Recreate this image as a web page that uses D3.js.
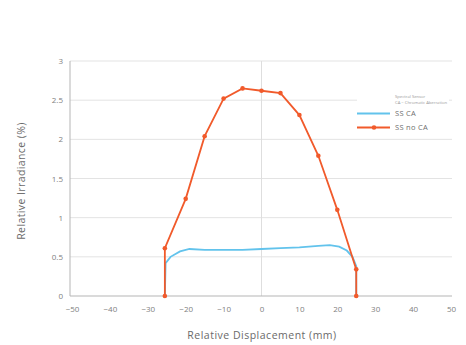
<!DOCTYPE html>
<html><head><meta charset="utf-8">
<script src="https://cdn.jsdelivr.net/npm/d3@7"></script>
<style>body{margin:0;background:#fff}svg{display:block;font-family:"Open Sans",sans-serif}</style>
</head><body><svg id="c" width="466" height="345"></svg>
<script>
const xTicks = [-50,-40,-30,-20,-10,0,10,20,30,40,50];
const yTicks = [0,0.5,1,1.5,2,2.5,3];
const yTickLabels = ["0","0.5","1","1.5","2","2.5","3"];
const seriesNames = ["SS CA","SS no CA"];
const legendTitle = ["Spectral Sensor","CA = Chromatic Aberration"];
const caX = [-25.5,-25.3,-24,-21.5,-19,-15,-10,-5,0,5,10,15,18,20.5,22.5,24,25,25];
const caY = [0,0.42,0.5,0.57,0.6,0.59,0.59,0.59,0.6,0.61,0.62,0.64,0.65,0.63,0.58,0.5,0.38,0];
const noCaX = [-25.5,-25.5,-20,-15,-10,-5,0,5,10,15,20,25,25];
const noCaY = [0,0.61,1.24,2.04,2.52,2.65,2.62,2.59,2.31,1.79,1.1,0.34,0];

const svg = d3.select("#c");
const x = d3.scaleLinear().domain([-50,50]).range([72,451]);
const y = d3.scaleLinear().domain([0,3]).range([296,61]);
const blue = "#62c3ec", orange = "#f15a2b";

// gridlines
svg.append("g").selectAll("line").data(yTicks.slice(1)).join("line")
  .attr("x1",70).attr("x2",452).attr("y1",d=>y(d)).attr("y2",d=>y(d))
  .attr("stroke","#e3e3e3").attr("stroke-width",1);
svg.append("line").attr("x1",x(0)).attr("x2",x(0)).attr("y1",y(3)).attr("y2",y(0))
  .attr("stroke","#dedede");

// axes
const xa = svg.append("g").attr("transform","translate(0,296)")
  .call(d3.axisBottom(x).tickValues(xTicks).tickSize(0).tickPadding(10));
xa.select(".domain").attr("d","M70,0H452").attr("stroke","#b5b5b5");
const ya = svg.append("g").attr("transform","translate(70,0)")
  .call(d3.axisLeft(y).tickValues(yTicks).tickFormat((d,i)=>yTickLabels[i]).tickSize(0).tickPadding(7));
ya.select(".domain").attr("d","M0,"+y(3)+"V296").attr("stroke","#b5b5b5");
svg.selectAll(".tick text").attr("fill","#808080").attr("font-size",8).attr("font-family","Open Sans");

svg.append("text").attr("x",262).attr("y",339).attr("text-anchor","middle")
  .attr("font-size",10.5).attr("letter-spacing",0.5).attr("fill","#6a6a6a").text("Relative Displacement (mm)");
svg.append("text").attr("transform","translate(25,181) rotate(-90)").attr("text-anchor","middle")
  .attr("font-size",10.5).attr("letter-spacing",0.4).attr("fill","#6a6a6a").text("Relative Irradiance (%)");

const line = d3.line().x(d=>x(d[0])).y(d=>y(d[1]));
const caData = caX.map((v,i)=>[v,caY[i]]);
const noCaData = noCaX.map((v,i)=>[v,noCaY[i]]);
svg.append("path").datum(caData).attr("d",line)
  .attr("fill","none").attr("stroke",blue).attr("stroke-width",1.8);
svg.append("path").datum(noCaData).attr("d",line)
  .attr("fill","none").attr("stroke",orange).attr("stroke-width",1.8);
svg.append("g").selectAll("circle").data(noCaData).join("circle")
  .attr("cx",d=>x(d[0])).attr("cy",d=>y(d[1])).attr("r",2.3).attr("fill",orange);

// legend
const lg = svg.append("g");
lg.append("rect").attr("x",357).attr("y",87).attr("width",92).attr("height",46).attr("fill","#fff");
lg.selectAll("text.t").data(legendTitle).join("text").attr("class","t")
  .attr("x",395).attr("y",(d,i)=>97.5+i*6).attr("font-size",4.2).attr("fill","#9a9a9a").text(d=>d);
[blue,orange].forEach((c,i)=>{
  const yy = 113.5 + i*14;
  lg.append("line").attr("x1",357).attr("x2",390).attr("y1",yy).attr("y2",yy).attr("stroke",c).attr("stroke-width",1.8);
  if(i===1) lg.append("circle").attr("cx",374).attr("cy",yy).attr("r",2.3).attr("fill",c);
  lg.append("text").attr("x",395).attr("y",yy+2.6).attr("font-size",7.5).attr("letter-spacing",0.3).attr("fill","#707070").text(seriesNames[i]);
});
</script></body></html>
